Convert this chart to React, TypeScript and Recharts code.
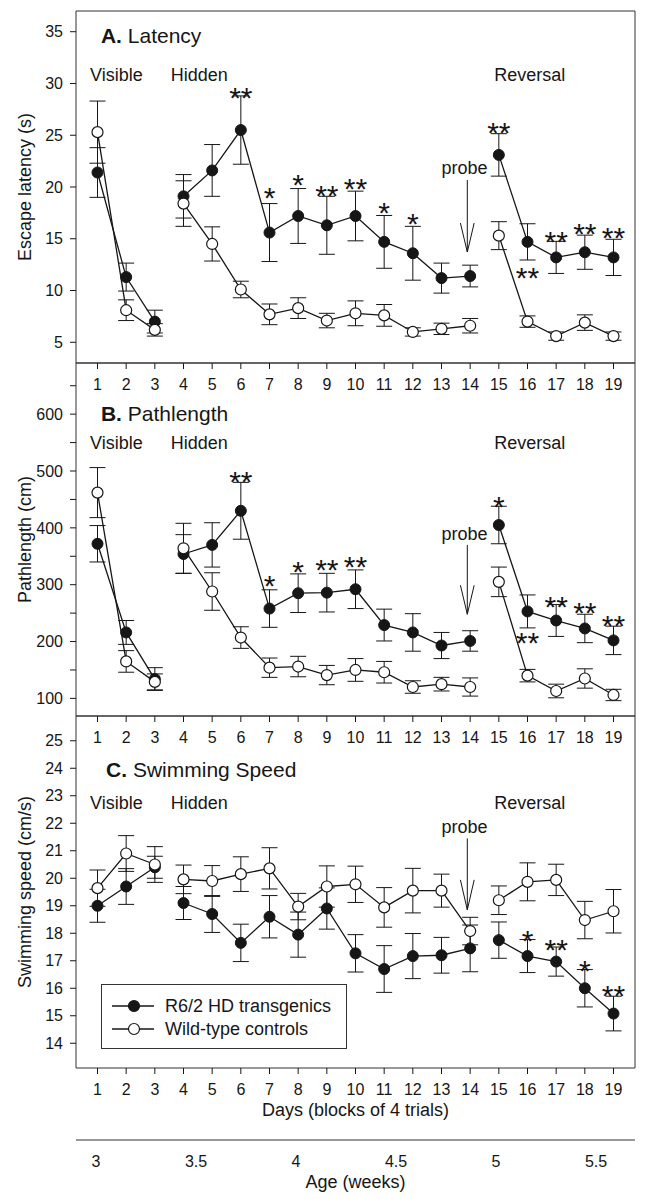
import React from 'react'
import {
  ComposedChart, Line, Scatter, XAxis, YAxis, ErrorBar, ReferenceArea, ReferenceLine,
} from 'recharts'

// days (blocks of 4 trials) and the three phases that are drawn as separate line runs
const days = [1, 2, 3, 4, 5, 6, 7, 8, 9, 10, 11, 12, 13, 14, 15, 16, 17, 18, 19]
const phases: [number, number][] = [[1, 3], [4, 14], [15, 19]]
const ageTicks = [3, 3.5, 4, 4.5, 5, 5.5]

// A. escape latency (s), mean and SEM
const tgLatency    = [21.4, 11.3, 7.0, 19.1, 21.6, 25.5, 15.6, 17.2, 16.3, 17.2, 14.7, 13.6, 11.2, 11.4, 23.1, 14.7, 13.2, 13.7, 13.2]
const tgLatencyErr = [2.4, 1.35, 1.1, 2.1, 2.5, 3.3, 2.8, 2.65, 2.8, 2.4, 2.55, 2.6, 1.45, 1.05, 2.05, 1.75, 1.55, 1.65, 1.75]
const wtLatency    = [25.3, 8.1, 6.2, 18.4, 14.5, 10.1, 7.7, 8.3, 7.1, 7.8, 7.6, 6.0, 6.3, 6.6, 15.3, 7.0, 5.6, 6.9, 5.6]
const wtLatencyErr = [3.0, 1.0, 0.6, 2.2, 1.65, 0.8, 1.0, 1.0, 0.7, 1.2, 1.05, 0.4, 0.55, 0.7, 1.35, 0.55, 0.4, 0.75, 0.4]

// B. pathlength (cm)
const tgPath    = [372, 216, 134, 354, 370, 430, 258, 285, 286, 292, 229, 216, 193, 201, 405, 253, 237, 223, 202]
const tgPathErr = [32, 21, 20, 34, 39, 50, 33, 34, 34, 34, 28, 33, 23, 18, 33, 29, 28, 25, 25]
const wtPath    = [462, 165, 129, 364, 288, 207, 154, 156, 141, 150, 146, 120, 125, 120, 305, 140, 113, 135, 106]
const wtPathErr = [44, 19, 14, 44, 33, 19, 17, 18, 17, 20, 19, 11, 12, 16, 26, 11, 12, 17, 10]

// C. swimming speed (cm/s)
const tgSpeed    = [19.0, 19.7, 20.4, 19.1, 18.7, 17.65, 18.6, 17.95, 18.9, 17.27, 16.7, 17.17, 17.2, 17.45, 17.75, 17.17, 16.97, 16.0, 15.08]
const tgSpeedErr = [0.6, 0.65, 0.4, 0.6, 0.67, 0.68, 0.77, 0.82, 0.75, 0.68, 0.85, 0.82, 0.65, 0.85, 0.66, 0.6, 0.53, 0.68, 0.63]
const wtSpeed    = [19.64, 20.9, 20.5, 19.96, 19.9, 20.15, 20.36, 18.97, 19.7, 19.78, 18.94, 19.55, 19.55, 18.08, 19.2, 19.87, 19.94, 18.48, 18.8]
const wtSpeedErr = [0.66, 0.65, 0.65, 0.52, 0.56, 0.63, 0.75, 0.48, 0.75, 0.66, 0.72, 0.81, 0.6, 0.5, 0.52, 0.69, 0.57, 0.68, 0.79]

// significance marks (day, value at which the mark sits)
const latencyStars = [
  { day: 6, v: 29.35, text: '**' }, { day: 7, v: 19.7, text: '*' }, { day: 8, v: 20.9, text: '*' },
  { day: 9, v: 19.85, text: '**' }, { day: 10, v: 20.5, text: '**' }, { day: 11, v: 18.25, text: '*' },
  { day: 12, v: 17.15, text: '*' }, { day: 15, v: 25.95, text: '**' }, { day: 16, v: 11.95, text: '**' },
  { day: 17, v: 15.45, text: '**' }, { day: 18, v: 16.2, text: '**' }, { day: 19, v: 15.75, text: '**' },
]
const pathStars = [
  { day: 6, v: 494, text: '**' }, { day: 7, v: 311, text: '*' }, { day: 8, v: 336, text: '*' },
  { day: 9, v: 338, text: '**' }, { day: 10, v: 344, text: '**' }, { day: 15, v: 449, text: '*' },
  { day: 16, v: 211, text: '**' }, { day: 17, v: 274, text: '**' }, { day: 18, v: 264, text: '**' },
  { day: 19, v: 241, text: '**' },
]
const speedStars = [
  { day: 16, v: 18.0, text: '*' }, { day: 17, v: 17.66, text: '**' },
  { day: 18, v: 16.9, text: '*' }, { day: 19, v: 16.0, text: '**' },
]

// panel texts, placed in data units
const latencyNotes = [
  { day: 1.12, v: 34.6, lead: 'A.', text: ' Latency', kind: 'title' },
  { day: 1.66, v: 30.9, text: 'Visible', kind: 'phase' },
  { day: 4.55, v: 30.9, text: 'Hidden', kind: 'phase' },
  { day: 16.08, v: 30.9, text: 'Reversal', kind: 'phase' },
  { day: 13.8, v: 21.88, text: 'probe', kind: 'phase' },
]
const pathNotes = [
  { day: 1.12, v: 601, lead: 'B.', text: ' Pathlength', kind: 'title' },
  { day: 1.66, v: 550, text: 'Visible', kind: 'phase' },
  { day: 4.55, v: 550, text: 'Hidden', kind: 'phase' },
  { day: 16.08, v: 550, text: 'Reversal', kind: 'phase' },
  { day: 13.8, v: 390, text: 'probe', kind: 'phase' },
]
const speedNotes = [
  { day: 1.3, v: 23.97, lead: 'C.', text: ' Swimming Speed', kind: 'title' },
  { day: 1.66, v: 22.77, text: 'Visible', kind: 'phase' },
  { day: 4.55, v: 22.77, text: 'Hidden', kind: 'phase' },
  { day: 16.08, v: 22.77, text: 'Reversal', kind: 'phase' },
  { day: 13.8, v: 21.88, text: 'probe', kind: 'phase' },
]

// probe arrows: shaft top, tip, start of the head
const latencyProbe = { day: 13.9, top: 20.68, tip: 13.72, head: 16.52 }
const pathProbe    = { day: 13.9, top: 370, tip: 248, head: 299 }
const speedProbe   = { day: 13.9, top: 21.45, tip: 18.85, head: 19.94 }

const INK = '#161616'
const FONT = '"Liberation Sans", Arial, Helvetica, sans-serif'
const X_DOMAIN: [number, number] = [0.25, 19.75]

function segment(means: number[], errs: number[], [a, b]: [number, number]) {
  return days.filter(d => d >= a && d <= b).map(d => ({ day: d, mean: means[d - 1], err: errs[d - 1] }))
}

// eslint-disable-next-line @typescript-eslint/no-explicit-any
const NoteMark = (props: any) => {
  const { cx, cy, payload } = props
  if (payload.kind === 'title') {
    return (
      <text x={cx} y={cy} dy="0.36em" textAnchor="start" fontSize={21} fill={INK} stroke="none">
        <tspan fontWeight="bold">{payload.lead}</tspan>
        <tspan>{payload.text}</tspan>
      </text>
    )
  }
  return <text x={cx} y={cy} dy="0.36em" textAnchor="middle" fontSize={18} fill={INK} stroke="none">{payload.text}</text>
}

// eslint-disable-next-line @typescript-eslint/no-explicit-any
const StarMark = (props: any) => (
  <text x={props.cx} y={props.cy} dy="0.58em" textAnchor="middle" fontSize={30}
    fill={INK} stroke="none">
    {props.payload.text}
  </text>
)

// eslint-disable-next-line @typescript-eslint/no-explicit-any
const YTitle = (props: any) => {
  const vb = props.viewBox ?? { y: 0, height: 0 }
  const x = 25
  const y = vb.y + vb.height / 2
  return (
    <text x={x} y={y} transform={`rotate(-90, ${x}, ${y})`} textAnchor="middle" dominantBaseline="central"
      fontSize={18} fill={INK}>
      {props.title}
    </text>
  )
}

type PanelCfg = {
  id: string
  yTitle: string
  tg: number[]; tgErr: number[]; wt: number[]; wtErr: number[]
  domain: [number, number]
  yTicks: number[]
  yFmt?: (v: number) => string
  stars: { day: number; v: number; text: string }[]
  notes: { day: number; v: number; text: string; kind: string; lead?: string }[]
  probe: { day: number; top: number; tip: number; head: number }
  top: number; marginTop: number; height: number
  last?: boolean
}

const panels: PanelCfg[] = [
  {
    id: 'A', yTitle: 'Escape latency (s)',
    tg: tgLatency, tgErr: tgLatencyErr, wt: wtLatency, wtErr: wtLatencyErr,
    domain: [3, 37], yTicks: [5, 10, 15, 20, 25, 30, 35],
    stars: latencyStars, notes: latencyNotes, probe: latencyProbe,
    top: 0, marginTop: 11, height: 403,
  },
  {
    id: 'B', yTitle: 'Pathlength (cm)',
    tg: tgPath, tgErr: tgPathErr, wt: wtPath, wtErr: wtPathErr,
    domain: [69, 690], yTicks: [100, 150, 200, 250, 300, 350, 400, 450, 500, 550, 600, 650],
    yFmt: v => (v % 100 === 0 && v <= 600 ? String(v) : ''),
    stars: pathStars, notes: pathNotes, probe: pathProbe,
    top: 340, marginTop: 23, height: 416,
  },
  {
    id: 'C', yTitle: 'Swimming speed (cm/s)',
    tg: tgSpeed, tgErr: tgSpeedErr, wt: wtSpeed, wtErr: wtSpeedErr,
    domain: [13.1, 25.9], yTicks: [14, 15, 16, 17, 18, 19, 20, 21, 22, 23, 24, 25],
    stars: speedStars, notes: speedNotes, probe: speedProbe,
    top: 700, marginTop: 16, height: 492, last: true,
  },
]

function Panel({ cfg }: { cfg: PanelCfg }) {
  const p = cfg.probe
  const hw = 0.24
  return (
    <div style={{ position: 'absolute', left: 0, top: cfg.top }}>
      <ComposedChart width={647} height={cfg.height} margin={{ top: cfg.marginTop, right: 12, bottom: 0, left: 0 }}>
        <XAxis
          type="number" dataKey="day" domain={X_DOMAIN} ticks={days} interval={0} allowDataOverflow
          axisLine={false} tickLine={{ stroke: INK }} tickSize={6} tickMargin={10}
          tick={{ fill: INK, fontSize: 16 }} height={cfg.last ? 72 : 40}
          label={cfg.last ? { value: 'Days (blocks of 4 trials)', position: 'insideBottom', offset: 24, fill: INK, fontSize: 18 } : undefined}
        />
        {cfg.last && (
          <XAxis
            xAxisId="age" type="number" dataKey="age" domain={[2.9, 5.695]} ticks={ageTicks} interval={0} allowDataOverflow
            axisLine={{ stroke: '#333' }} tickLine={false} tickSize={6} tickMargin={10}
            tick={{ fill: INK, fontSize: 16 }} height={52}
            label={{ value: 'Age (weeks)', position: 'insideBottom', offset: 4, fill: INK, fontSize: 18 }}
          />
        )}
        <YAxis
          type="number" domain={cfg.domain} ticks={cfg.yTicks} tickFormatter={cfg.yFmt} interval={0} allowDataOverflow
          width={76} axisLine={false} tickLine={{ stroke: INK }} tickSize={6} tickMargin={7}
          tick={{ fill: INK, fontSize: 16 }} label={<YTitle title={cfg.yTitle} />}
        />
        <ReferenceArea x1={X_DOMAIN[0]} x2={X_DOMAIN[1]} y1={cfg.domain[0]} y2={cfg.domain[1]}
          fill="none" fillOpacity={0} stroke="#333" strokeWidth={1} strokeOpacity={1} />

        {/* probe arrow */}
        <ReferenceLine segment={[{ x: p.day, y: p.top }, { x: p.day, y: p.tip }]} stroke={INK} strokeWidth={1} />
        <ReferenceLine segment={[{ x: p.day - hw, y: p.head }, { x: p.day, y: p.tip }]} stroke={INK} strokeWidth={1} />
        <ReferenceLine segment={[{ x: p.day + hw, y: p.head }, { x: p.day, y: p.tip }]} stroke={INK} strokeWidth={1} />

        {/* age scale has no marks of its own; an empty run keeps the axis populated */}
        {cfg.last && (
          <Line xAxisId="age" data={ageTicks.map(a => ({ age: a }))} dataKey="none" stroke="none"
            dot={false} activeDot={false} isAnimationActive={false} />
        )}

        {phases.map(ph => (
          <Line key={'tg' + ph[0]} data={segment(cfg.tg, cfg.tgErr, ph)} dataKey="mean" type="linear"
            stroke={INK} strokeWidth={1.3} isAnimationActive={false}
            dot={{ r: 5.5, fill: INK, stroke: INK, strokeWidth: 1 }} activeDot={false}>
            <ErrorBar dataKey="err" direction="y" width={8} stroke={INK} strokeWidth={1} />
          </Line>
        ))}
        {phases.map(ph => (
          <Line key={'wt' + ph[0]} data={segment(cfg.wt, cfg.wtErr, ph)} dataKey="mean" type="linear"
            stroke={INK} strokeWidth={1.3} isAnimationActive={false}
            dot={{ r: 5.5, fill: '#fff', stroke: INK, strokeWidth: 1.2 }} activeDot={false}>
            <ErrorBar dataKey="err" direction="y" width={8} stroke={INK} strokeWidth={1} />
          </Line>
        ))}

        <Scatter data={cfg.notes} dataKey="v" shape={NoteMark} isAnimationActive={false} />
        <Scatter data={cfg.stars} dataKey="v" shape={StarMark} isAnimationActive={false} />
      </ComposedChart>
    </div>
  )
}

const legendItems = [
  { name: 'R6/2 HD transgenics', fill: INK },
  { name: 'Wild-type controls', fill: '#fff' },
]

export default function App() {
  return (
    <div style={{ position: 'absolute', left: 0, top: 0, width: 647, height: 1199, background: '#fff', fontFamily: FONT }}>
      {panels.map(cfg => <Panel key={cfg.id} cfg={cfg} />)}
      <div style={{
        position: 'absolute', left: 101, top: 984, width: 246, height: 65,
        border: '1px solid #333', boxSizing: 'border-box', background: '#fff',
      }}>
        {legendItems.map((it, i) => (
          <div key={it.name} style={{ position: 'absolute', left: 0, top: 9 + i * 23, height: 24, width: 244 }}>
            <svg width={48} height={24} style={{ position: 'absolute', left: 8, top: 0 }}>
              <line x1={2} y1={12} x2={44} y2={12} stroke={INK} strokeWidth={1.3} />
              <circle cx={24} cy={12} r={5.5} fill={it.fill} stroke={INK} strokeWidth={1.2} />
            </svg>
            <span style={{ position: 'absolute', left: 63, top: 1, fontSize: 18, lineHeight: '22px', color: INK, whiteSpace: 'nowrap' }}>
              {it.name}
            </span>
          </div>
        ))}
      </div>
    </div>
  )
}
